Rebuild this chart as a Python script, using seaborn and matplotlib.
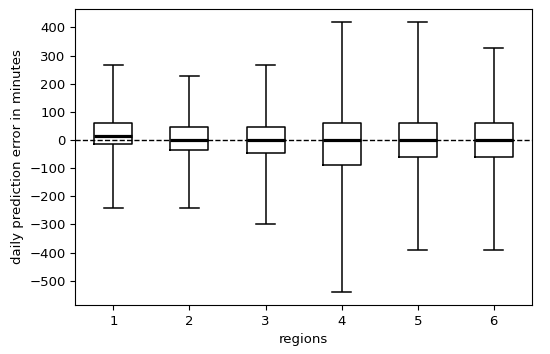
import pandas as pd
import matplotlib
matplotlib.use("Agg")
import matplotlib.pyplot as plt
import seaborn as sns

# five-number summaries (min, q1, median, q3, max)
regions = [1, 2, 3, 4, 5, 6]
whisker_low = [-240, -240, -298, -540, -390, -390]
q1 = [-16, -36, -45, -89, -60, -60]
median = [14, 0, 0, 0, 0, 0]
q3 = [60, 46, 46, 60, 60, 60]
whisker_high = [268, 227, 268, 420, 420, 326]

rows = []
for i, r in enumerate(regions):
    for v in (whisker_low[i], q1[i], median[i], q3[i], whisker_high[i]):
        rows.append({"region": r, "error": v})
df = pd.DataFrame(rows)

plt.rcParams["font.size"] = 9.5
fig = plt.figure(figsize=(5.5, 3.54), dpi=100)
ax = fig.add_axes([0.137, 0.138, 0.83, 0.837])

sns.boxplot(data=df, x="region", y="error", ax=ax, whis=(0, 100),
            width=0.5, fill=False, color="black", linewidth=1.1,
            showfliers=False,
            medianprops={"linewidth": 2.3, "color": "black"})
ax.axhline(0, color="black", linestyle="--", linewidth=1)

ax.set_ylim(-587, 466)
ax.set_yticks(range(-500, 401, 100))
ax.set_xlabel("regions")
ax.set_ylabel("daily prediction error in minutes")

plt.savefig("out.png", dpi=100)
plt.close()
